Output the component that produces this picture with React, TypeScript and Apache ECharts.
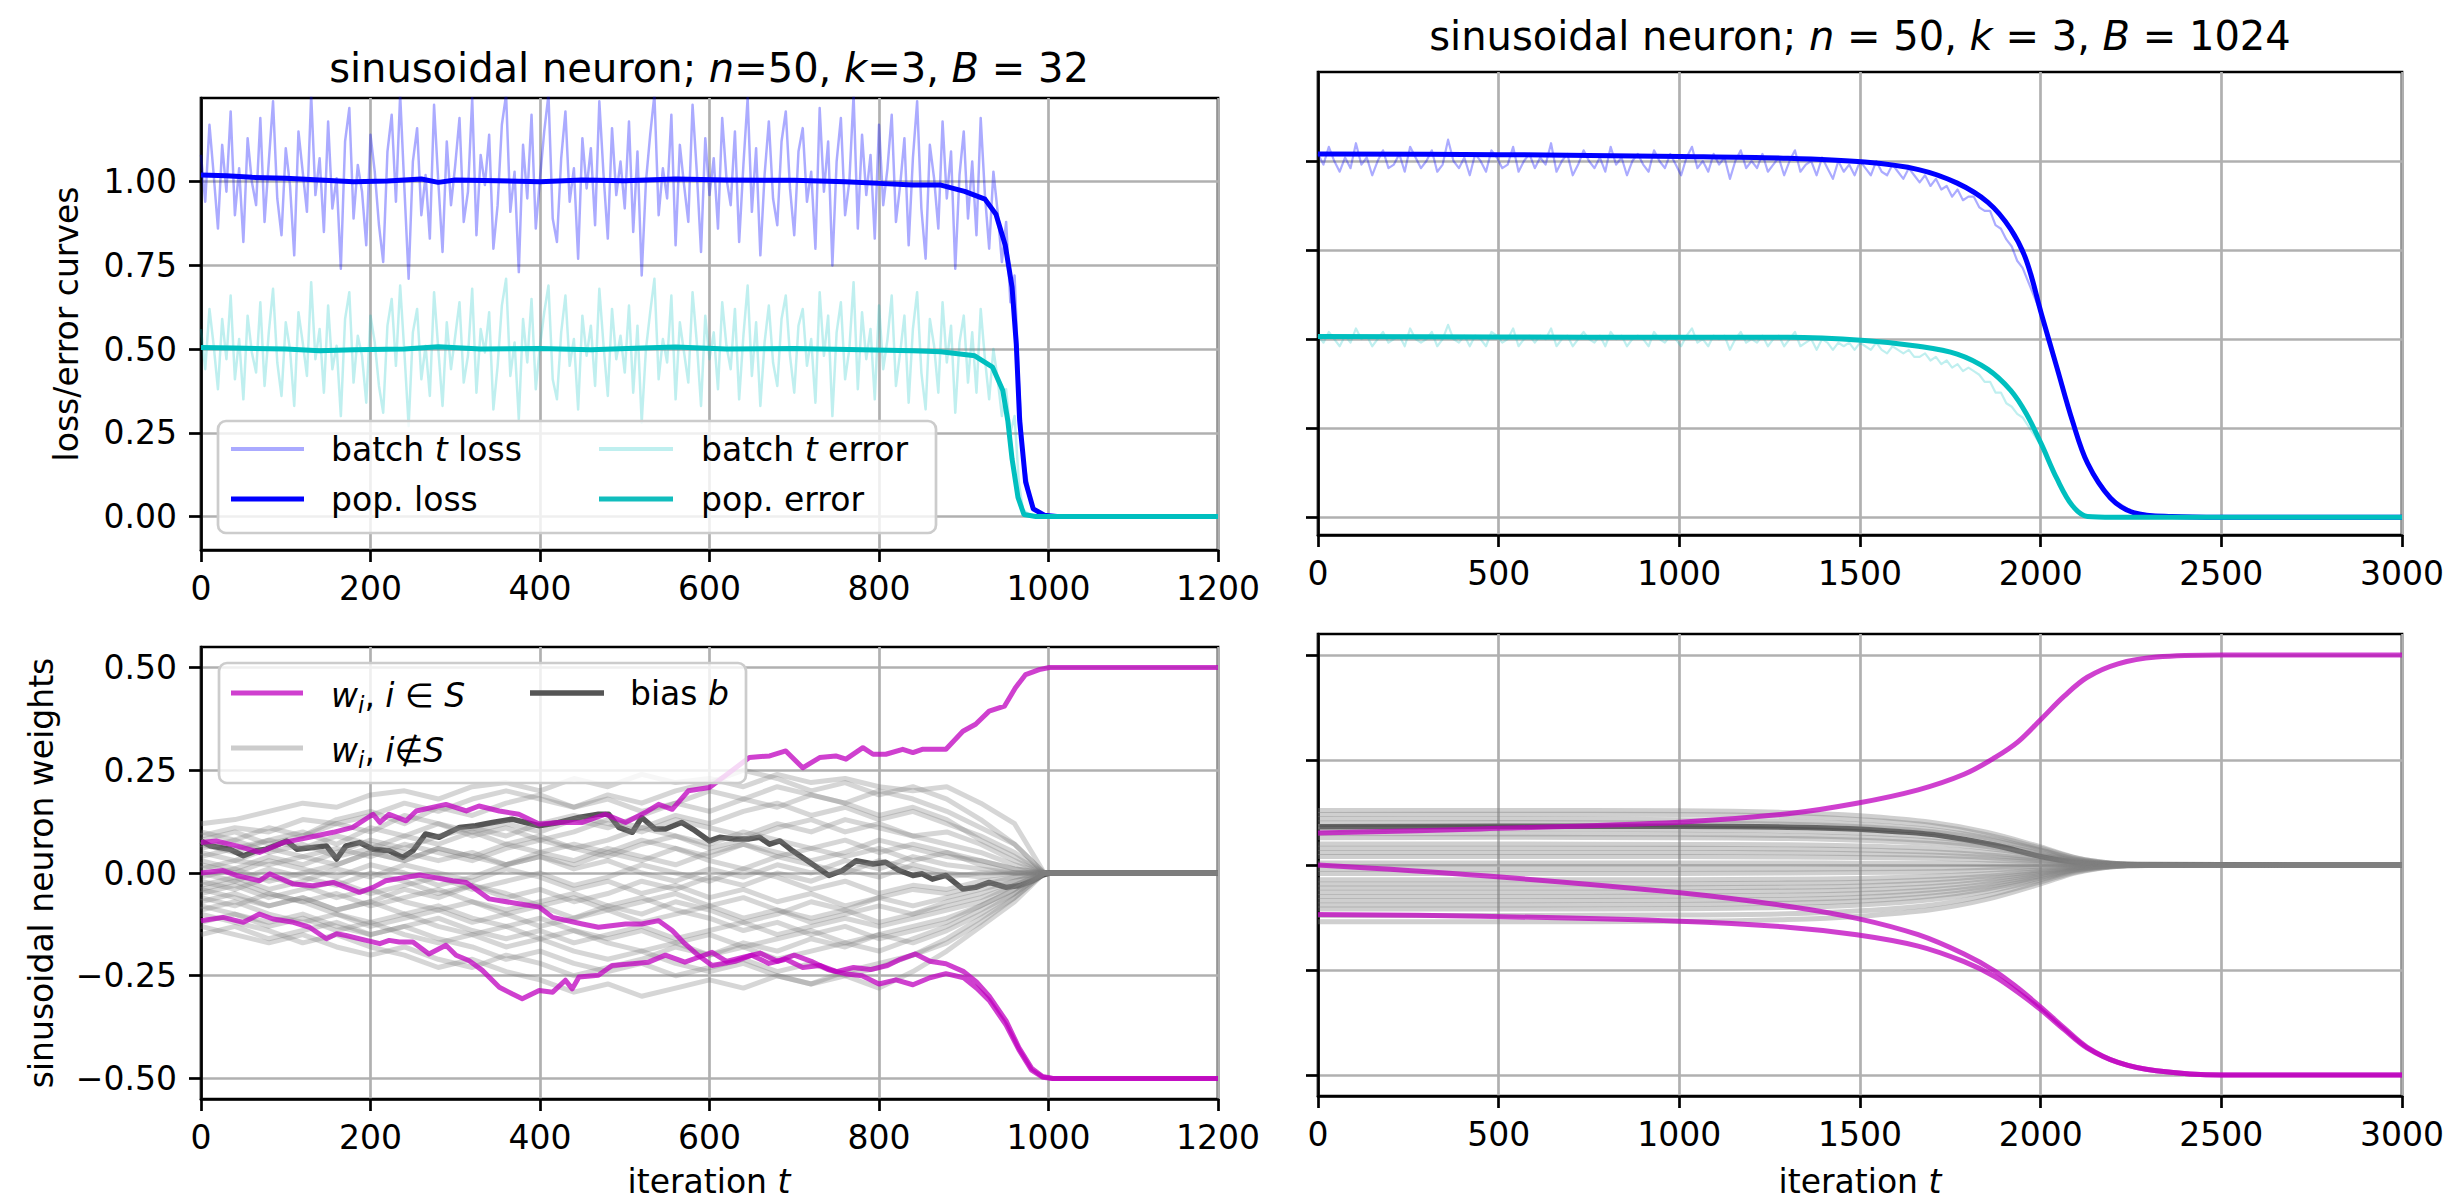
import React, { useEffect, useRef } from 'react';
import * as echarts from 'echarts';

const FONT = 'DejaVu Sans';

// ---------- Top-left: B = 32 ----------
const tlBatchStep = 5;
const tlBatchLoss = [
  1.08, 0.94, 1.17, 1.02, 0.86, 1.11, 0.97, 1.21, 0.90, 1.04, 0.82, 1.13, 1.00, 0.93, 1.19, 0.88, 1.06, 1.24, 0.95, 0.84,
  1.10, 0.99, 0.78, 1.15, 1.03, 0.91, 1.26, 0.96, 1.07, 0.85, 1.18, 0.92, 1.01, 0.74, 1.12, 1.22, 0.89, 1.05, 0.97, 0.81,
  1.14, 1.03, 0.87, 0.76, 1.09, 1.20, 0.94, 1.26, 0.98, 0.71, 1.06, 1.16, 0.90, 1.02, 0.83, 1.23, 1.00, 0.79, 1.12, 0.93,
  1.05, 1.19, 0.88, 0.97, 1.25, 0.84, 1.08, 0.99, 1.14, 0.80, 0.93, 1.17, 1.26, 0.91, 1.03, 0.73, 1.11, 0.95, 1.20, 0.86,
  1.01, 1.15, 1.26, 0.89, 0.82, 1.07, 1.21, 0.94, 1.04, 0.77, 1.13, 0.98, 1.10, 0.87, 1.24, 1.02, 0.83, 1.16, 0.96, 1.06,
  0.92, 1.18, 0.85, 1.09, 0.72, 1.00, 1.14, 1.26, 0.90, 1.04, 0.95, 1.20, 0.81, 1.11, 0.99, 0.88, 1.23, 1.03, 0.79, 1.13,
  0.96, 1.07, 0.86, 1.19, 1.01, 0.93, 1.15, 0.82, 1.05, 1.25, 0.91, 1.10, 0.78, 1.02, 1.18, 0.95, 0.87, 1.12, 1.21, 0.98,
  0.84, 1.09, 1.16, 0.94, 1.03, 0.80, 1.22, 0.97, 1.12, 0.75, 1.06, 1.19, 0.90, 1.00, 1.26, 0.86, 1.14, 0.96, 1.08, 0.83,
  1.17, 0.93, 1.04, 1.20, 0.88, 0.99, 1.13, 0.81, 1.07, 1.24, 0.92, 0.77, 1.11, 1.01, 0.86, 1.18, 0.95, 1.09, 0.74, 1.02,
  1.15, 0.89, 1.06, 0.84, 1.19, 0.96, 0.80, 1.03, 0.91, 0.76, 0.88, 0.64, 0.72,
];
const tlBatchLossTailT = [965, 970, 980, 990, 1000, 1200];
const tlBatchLossTailV = [0.40, 0.18, 0.03, 0.005, 0, 0];
const tlBatchErr = [
  0.56, 0.44, 0.62, 0.51, 0.38, 0.59, 0.47, 0.66, 0.41, 0.53, 0.35, 0.60, 0.49, 0.43, 0.64, 0.39, 0.55, 0.68, 0.46, 0.36,
  0.58, 0.50, 0.33, 0.61, 0.52, 0.42, 0.70, 0.47, 0.56, 0.37, 0.63, 0.44, 0.51, 0.30, 0.59, 0.67, 0.40, 0.54, 0.48, 0.34,
  0.60, 0.52, 0.39, 0.31, 0.57, 0.65, 0.45, 0.69, 0.49, 0.27, 0.55, 0.62, 0.41, 0.51, 0.36, 0.67, 0.50, 0.33, 0.58, 0.44,
  0.54, 0.64, 0.40, 0.48, 0.68, 0.37, 0.56, 0.49, 0.61, 0.32, 0.45, 0.63, 0.71, 0.42, 0.52, 0.29, 0.59, 0.46, 0.65, 0.38,
  0.51, 0.61, 0.69, 0.41, 0.35, 0.55, 0.66, 0.45, 0.53, 0.32, 0.60, 0.48, 0.57, 0.39, 0.68, 0.51, 0.36, 0.62, 0.47, 0.54,
  0.43, 0.63, 0.37, 0.57, 0.28, 0.50, 0.61, 0.71, 0.41, 0.53, 0.46, 0.66, 0.35, 0.58, 0.49, 0.40, 0.67, 0.52, 0.33, 0.60,
  0.47, 0.55, 0.38, 0.64, 0.51, 0.44, 0.62, 0.35, 0.54, 0.69, 0.42, 0.58, 0.33, 0.52, 0.63, 0.46, 0.39, 0.59, 0.66, 0.48,
  0.37, 0.57, 0.62, 0.45, 0.53, 0.34, 0.67, 0.48, 0.60, 0.30, 0.55, 0.64, 0.41, 0.50, 0.70, 0.38, 0.61, 0.47, 0.56, 0.35,
  0.63, 0.44, 0.53, 0.66, 0.39, 0.49, 0.60, 0.34, 0.56, 0.67, 0.43, 0.32, 0.59, 0.51, 0.37, 0.64, 0.46, 0.57, 0.31, 0.52,
  0.60, 0.40, 0.55, 0.37, 0.62, 0.47, 0.35, 0.50, 0.41, 0.30, 0.38, 0.25, 0.30,
];
const tlBatchErrTailT = [965, 970, 980, 1200];
const tlBatchErrTailV = [0.10, 0.02, 0, 0];
const tlPopLossT = [0, 30, 60, 100, 140, 180, 220, 260, 280, 300, 350, 400, 450, 500, 560, 620, 700, 760, 800, 840, 873, 901, 925, 938, 949, 957, 962, 966, 973, 982, 995, 1010, 1200];
const tlPopLossV = [1.02, 1.018, 1.013, 1.01, 1.005, 1.0, 1.002, 1.008, 0.998, 1.005, 1.003, 1.0, 1.005, 1.003, 1.008, 1.005, 1.004, 1.0, 0.995, 0.99, 0.99, 0.971, 0.948, 0.903, 0.81, 0.685, 0.514, 0.285, 0.103, 0.023, 0.004, 0, 0];
const tlPopErrT = [0, 40, 100, 140, 180, 240, 280, 330, 400, 460, 520, 560, 620, 700, 780, 840, 873, 913, 934, 946, 952, 957, 964, 971, 985, 1200];
const tlPopErrV = [0.505, 0.503, 0.5, 0.495, 0.498, 0.5, 0.507, 0.5, 0.502, 0.498, 0.503, 0.506, 0.5, 0.502, 0.498, 0.495, 0.492, 0.48, 0.446, 0.377, 0.286, 0.172, 0.057, 0.006, 0, 0];

// ---------- Top-right: B = 1024 ----------
const trBatchStep = 15;
const trBatchLoss = [
  1.02, 0.99, 1.04, 1.00, 0.97, 1.01, 0.98, 1.05, 0.99, 1.01, 0.96, 1.00, 1.03, 0.98, 0.99, 1.02, 0.97, 1.04, 1.01, 0.98,
  1.00, 1.03, 0.97, 0.99, 1.06, 1.00, 0.98, 1.01, 0.96, 1.02, 1.00, 0.97, 1.03, 1.01, 0.98, 0.99, 1.04, 0.97, 1.00, 1.02,
  0.98, 1.01, 0.99, 1.05, 0.97, 1.00, 1.02, 0.96, 0.99, 1.03, 1.00, 0.98, 1.01, 0.97, 1.04, 0.99, 1.01, 0.96, 1.00, 1.02,
  0.99, 0.97, 1.03, 1.00, 0.98, 1.02, 0.99, 0.96, 1.01, 1.04, 0.98, 1.00, 0.97, 1.02, 0.99, 1.01, 0.95, 1.00, 1.03, 0.98,
  1.00, 0.98, 1.02, 0.97, 0.99, 1.01, 0.96, 1.00, 1.03, 0.97, 0.99, 1.00, 0.96, 1.01, 0.98, 0.95, 1.00, 0.97, 0.99, 0.96,
  1.00, 0.98, 0.96, 1.00, 0.97, 0.96, 0.99, 0.97, 0.95, 0.98, 0.96, 0.94, 0.96, 0.93, 0.95, 0.92, 0.93, 0.90, 0.92, 0.89,
  0.90, 0.90, 0.87, 0.86, 0.86, 0.82, 0.81, 0.78, 0.76, 0.72, 0.70,
];
const trBatchLossTailT = [2002, 2045, 2088, 2130, 2193, 2257, 2363, 3000];
const trBatchLossTailV = [0.57, 0.42, 0.27, 0.15, 0.054, 0.013, 0.002, 0];
const trBatchErr = [
  0.51, 0.49, 0.52, 0.50, 0.48, 0.51, 0.49, 0.53, 0.50, 0.51, 0.48, 0.50, 0.52, 0.49, 0.50, 0.51, 0.48, 0.53, 0.50, 0.49,
  0.50, 0.52, 0.48, 0.50, 0.54, 0.50, 0.49, 0.51, 0.48, 0.51, 0.50, 0.48, 0.52, 0.51, 0.49, 0.50, 0.53, 0.48, 0.50, 0.51,
  0.49, 0.51, 0.50, 0.53, 0.48, 0.50, 0.51, 0.48, 0.50, 0.52, 0.50, 0.49, 0.51, 0.48, 0.52, 0.50, 0.51, 0.48, 0.50, 0.51,
  0.50, 0.48, 0.52, 0.50, 0.49, 0.51, 0.50, 0.48, 0.51, 0.53, 0.49, 0.50, 0.48, 0.51, 0.50, 0.51, 0.47, 0.50, 0.52, 0.49,
  0.50, 0.49, 0.51, 0.48, 0.50, 0.51, 0.48, 0.50, 0.52, 0.48, 0.49, 0.50, 0.47, 0.50, 0.49, 0.47, 0.49, 0.48, 0.49, 0.47,
  0.49, 0.48, 0.47, 0.49, 0.47, 0.46, 0.48, 0.47, 0.46, 0.47, 0.45, 0.45, 0.46, 0.44, 0.45, 0.43, 0.44, 0.42, 0.43, 0.41,
  0.42, 0.41, 0.40, 0.38, 0.38, 0.35, 0.35, 0.32, 0.31, 0.29, 0.28,
];
const trBatchErrTailT = [2002, 2045, 2088, 2130, 3000];
const trBatchErrTailV = [0.20, 0.105, 0.03, 0.002, 0];
const trPopLossT = [0, 500, 1003, 1301, 1513, 1662, 1769, 1854, 1917, 1960, 2002, 2045, 2088, 2130, 2193, 2257, 2363, 2500, 3000];
const trPopLossV = [1.02, 1.018, 1.013, 1.008, 0.997, 0.976, 0.938, 0.884, 0.809, 0.722, 0.571, 0.42, 0.27, 0.151, 0.054, 0.013, 0.002, 0, 0];
const trPopErrT = [0, 500, 1000, 1301, 1513, 1662, 1769, 1854, 1917, 1960, 2002, 2045, 2088, 2130, 2200, 3000];
const trPopErrV = [0.507, 0.506, 0.505, 0.505, 0.496, 0.48, 0.458, 0.415, 0.356, 0.291, 0.205, 0.108, 0.032, 0.002, 0, 0];

// ---------- Bottom-left: weights, B = 32 ----------
const blPinkAT = [0, 18, 42, 69, 97, 128, 156, 179, 203, 211, 222, 242, 254, 289, 313, 328, 352, 375, 399, 422, 450, 477, 501, 524, 540, 556, 575, 600, 647, 671, 690, 710, 730, 749, 761, 781, 793, 808, 828, 840, 851, 879, 899, 914, 930, 948, 961, 973, 989, 1001, 1200];
const blPinkAV = [0.074, 0.078, 0.066, 0.050, 0.074, 0.087, 0.099, 0.111, 0.143, 0.123, 0.143, 0.127, 0.151, 0.167, 0.151, 0.163, 0.151, 0.143, 0.119, 0.123, 0.123, 0.143, 0.123, 0.147, 0.167, 0.155, 0.200, 0.208, 0.281, 0.285, 0.297, 0.256, 0.281, 0.285, 0.277, 0.305, 0.289, 0.289, 0.301, 0.293, 0.301, 0.301, 0.345, 0.362, 0.394, 0.406, 0.451, 0.483, 0.495, 0.5, 0.5];
const blPinkBT = [0, 26, 42, 69, 81, 109, 132, 156, 187, 203, 218, 258, 297, 313, 340, 375, 399, 415, 450, 469, 501, 520, 540, 556, 571, 587, 603, 630, 650, 670, 690, 710, 730, 750, 770, 790, 810, 825, 843, 860, 879, 900, 915, 930, 950, 965, 980, 993, 1005, 1200];
const blPinkBV = [0, 0.006, -0.006, -0.019, -0.002, -0.027, -0.031, -0.023, -0.047, -0.035, -0.019, -0.005, -0.019, -0.023, -0.063, -0.075, -0.083, -0.108, -0.124, -0.132, -0.124, -0.124, -0.116, -0.140, -0.172, -0.201, -0.225, -0.215, -0.2, -0.22, -0.21, -0.23, -0.225, -0.24, -0.23, -0.235, -0.225, -0.21, -0.197, -0.215, -0.221, -0.24, -0.265, -0.3, -0.36, -0.425, -0.475, -0.495, -0.5, -0.5];
const blPinkCT = [0, 26, 50, 69, 85, 109, 128, 148, 160, 171, 195, 211, 222, 234, 250, 269, 289, 301, 316, 332, 352, 367, 379, 399, 415, 430, 438, 446, 469, 485, 509, 528, 548, 571, 587, 603, 620, 640, 660, 680, 700, 720, 740, 760, 780, 800, 820, 840, 860, 879, 900, 915, 930, 950, 965, 980, 993, 1005, 1200];
const blPinkCV = [-0.116, -0.108, -0.12, -0.1, -0.112, -0.12, -0.132, -0.16, -0.148, -0.152, -0.164, -0.172, -0.164, -0.168, -0.168, -0.197, -0.176, -0.2, -0.213, -0.237, -0.278, -0.294, -0.306, -0.286, -0.29, -0.261, -0.282, -0.253, -0.249, -0.225, -0.221, -0.217, -0.2, -0.217, -0.205, -0.193, -0.215, -0.205, -0.195, -0.215, -0.2, -0.215, -0.235, -0.245, -0.25, -0.27, -0.26, -0.272, -0.255, -0.245, -0.255, -0.28, -0.31, -0.37, -0.43, -0.48, -0.497, -0.5, -0.5];
const blBiasT = [0, 11, 22, 34, 50, 65, 77, 101, 113, 132, 148, 160, 171, 187, 203, 222, 238, 250, 265, 281, 305, 324, 344, 367, 383, 399, 422, 446, 469, 481, 493, 509, 520, 536, 548, 567, 583, 600, 612, 628, 647, 659, 671, 683, 698, 718, 741, 757, 773, 793, 808, 824, 840, 851, 863, 879, 899, 914, 930, 950, 965, 981, 993, 1001, 1200];
const blBiasV = [0.078, 0.066, 0.062, 0.058, 0.042, 0.054, 0.058, 0.078, 0.058, 0.062, 0.066, 0.034, 0.066, 0.074, 0.058, 0.054, 0.038, 0.054, 0.095, 0.087, 0.111, 0.115, 0.123, 0.131, 0.123, 0.115, 0.123, 0.135, 0.143, 0.143, 0.111, 0.099, 0.135, 0.107, 0.107, 0.123, 0.103, 0.078, 0.087, 0.083, 0.083, 0.087, 0.07, 0.078, 0.054, 0.026, -0.006, 0.006, 0.03, 0.022, 0.026, 0.006, -0.006, -0.002, -0.015, -0.006, -0.039, -0.035, -0.023, -0.035, -0.031, -0.019, -0.005, 0, 0];
const blGreyT = [0, 40, 80, 120, 160, 200, 240, 280, 320, 360, 400, 440, 480, 520, 560, 600, 640, 680, 720, 760, 800, 840, 880, 920, 960, 995, 1200];
const blGreyLines = [
  [0.12, 0.13, 0.15, 0.17, 0.16, 0.19, 0.20, 0.18, 0.21, 0.22, 0.20, 0.23, 0.21, 0.24, 0.22, 0.23, 0.21, 0.24, 0.22, 0.23, 0.21, 0.20, 0.21, 0.17, 0.12, 0, 0],
  [0.10, 0.08, 0.11, 0.09, 0.13, 0.15, 0.12, 0.16, 0.14, 0.17, 0.19, 0.16, 0.18, 0.15, 0.17, 0.20, 0.18, 0.21, 0.19, 0.17, 0.20, 0.18, 0.15, 0.11, 0.07, 0, 0],
  [0.09, 0.11, 0.10, 0.13, 0.12, 0.10, 0.14, 0.12, 0.09, 0.11, 0.08, 0.10, 0.13, 0.11, 0.14, 0.12, 0.15, 0.17, 0.14, 0.16, 0.13, 0.15, 0.12, 0.09, 0.05, 0, 0],
  [0.07, 0.05, 0.08, 0.10, 0.07, 0.11, 0.09, 0.12, 0.10, 0.07, 0.09, 0.06, 0.08, 0.11, 0.09, 0.06, 0.08, 0.11, 0.13, 0.10, 0.12, 0.09, 0.10, 0.07, 0.03, 0, 0],
  [0.06, 0.08, 0.05, 0.07, 0.04, 0.06, 0.09, 0.07, 0.10, 0.12, 0.10, 0.13, 0.11, 0.14, 0.17, 0.15, 0.18, 0.16, 0.19, 0.17, 0.14, 0.16, 0.13, 0.08, 0.04, 0, 0],
  [0.05, 0.03, 0.06, 0.04, 0.02, 0.05, 0.03, 0.06, 0.04, 0.07, 0.05, 0.03, 0.06, 0.04, 0.02, 0.05, 0.07, 0.04, 0.06, 0.08, 0.05, 0.07, 0.05, 0.03, 0.01, 0, 0],
  [0.04, 0.06, 0.08, 0.06, 0.09, 0.07, 0.05, 0.03, 0.05, 0.02, 0.04, 0.01, 0.03, 0.00, -0.02, 0.01, -0.01, 0.02, 0.00, 0.03, 0.01, 0.04, 0.02, 0.01, 0.00, 0, 0],
  [0.03, 0.01, 0.04, 0.02, 0.05, 0.08, 0.06, 0.09, 0.11, 0.09, 0.12, 0.14, 0.12, 0.10, 0.13, 0.11, 0.09, 0.12, 0.10, 0.13, 0.11, 0.09, 0.07, 0.05, 0.02, 0, 0],
  [0.02, 0.00, 0.03, 0.01, -0.01, 0.02, 0.00, -0.03, -0.01, 0.02, 0.04, 0.02, 0.05, 0.03, 0.06, 0.04, 0.07, 0.05, 0.03, 0.05, 0.08, 0.06, 0.04, 0.03, 0.01, 0, 0],
  [0.01, 0.03, 0.02, 0.04, 0.06, 0.04, 0.07, 0.05, 0.03, 0.06, 0.08, 0.06, 0.04, 0.07, 0.09, 0.07, 0.10, 0.08, 0.06, 0.04, 0.06, 0.03, 0.05, 0.02, 0.00, 0, 0],
  [0.00, -0.02, 0.01, -0.01, -0.03, 0.00, -0.02, -0.05, -0.03, -0.06, -0.04, -0.07, -0.05, -0.02, -0.04, -0.01, -0.03, 0.00, -0.02, 0.01, -0.01, 0.02, 0.00, -0.01, 0.00, 0, 0],
  [-0.01, 0.01, -0.02, 0.00, 0.02, 0.05, 0.03, 0.06, 0.04, 0.02, 0.05, 0.07, 0.05, 0.08, 0.06, 0.03, 0.01, 0.04, 0.02, 0.00, 0.03, 0.01, -0.01, 0.00, 0.00, 0, 0],
  [-0.02, -0.04, -0.01, -0.03, -0.06, -0.04, -0.07, -0.09, -0.07, -0.10, -0.08, -0.11, -0.09, -0.12, -0.10, -0.08, -0.11, -0.09, -0.12, -0.10, -0.08, -0.10, -0.07, -0.05, -0.02, 0, 0],
  [-0.03, -0.01, -0.04, -0.02, 0.01, -0.01, 0.02, 0.00, -0.02, 0.01, -0.01, -0.04, -0.02, -0.05, -0.03, -0.06, -0.04, -0.07, -0.05, -0.08, -0.06, -0.04, -0.05, -0.03, -0.01, 0, 0],
  [-0.04, -0.06, -0.08, -0.06, -0.09, -0.07, -0.10, -0.08, -0.11, -0.13, -0.11, -0.14, -0.16, -0.14, -0.17, -0.15, -0.18, -0.16, -0.14, -0.17, -0.15, -0.13, -0.11, -0.08, -0.04, 0, 0],
  [-0.05, -0.03, -0.06, -0.04, -0.02, -0.05, -0.03, -0.01, -0.04, -0.02, 0.00, -0.03, -0.01, 0.02, 0.00, -0.02, 0.01, -0.01, -0.04, -0.02, -0.05, -0.03, -0.04, -0.02, -0.01, 0, 0],
  [-0.06, -0.08, -0.05, -0.07, -0.10, -0.12, -0.10, -0.13, -0.15, -0.13, -0.16, -0.14, -0.17, -0.19, -0.17, -0.20, -0.18, -0.21, -0.19, -0.17, -0.19, -0.16, -0.13, -0.09, -0.05, 0, 0],
  [-0.07, -0.05, -0.08, -0.06, -0.09, -0.07, -0.04, -0.06, -0.03, -0.05, -0.08, -0.06, -0.09, -0.07, -0.05, -0.08, -0.06, -0.09, -0.11, -0.09, -0.12, -0.10, -0.08, -0.06, -0.03, 0, 0],
  [-0.08, -0.10, -0.12, -0.10, -0.13, -0.15, -0.13, -0.16, -0.18, -0.21, -0.19, -0.22, -0.24, -0.22, -0.25, -0.23, -0.21, -0.24, -0.22, -0.25, -0.23, -0.20, -0.17, -0.12, -0.06, 0, 0],
  [-0.09, -0.07, -0.10, -0.12, -0.10, -0.13, -0.11, -0.09, -0.12, -0.10, -0.13, -0.11, -0.08, -0.10, -0.07, -0.09, -0.12, -0.10, -0.07, -0.09, -0.06, -0.08, -0.06, -0.04, -0.02, 0, 0],
  [-0.10, -0.12, -0.14, -0.17, -0.15, -0.18, -0.20, -0.23, -0.21, -0.24, -0.26, -0.29, -0.27, -0.30, -0.28, -0.26, -0.28, -0.25, -0.27, -0.24, -0.22, -0.20, -0.16, -0.11, -0.06, 0, 0],
  [-0.12, -0.10, -0.13, -0.11, -0.14, -0.12, -0.15, -0.17, -0.15, -0.18, -0.16, -0.19, -0.21, -0.19, -0.22, -0.24, -0.22, -0.25, -0.27, -0.25, -0.28, -0.24, -0.19, -0.13, -0.07, 0, 0],
  [-0.13, -0.15, -0.17, -0.15, -0.18, -0.20, -0.18, -0.21, -0.23, -0.20, -0.22, -0.25, -0.23, -0.21, -0.18, -0.20, -0.17, -0.19, -0.16, -0.18, -0.15, -0.17, -0.14, -0.10, -0.05, 0, 0],
  [-0.15, -0.13, -0.16, -0.14, -0.12, -0.15, -0.13, -0.11, -0.14, -0.16, -0.14, -0.17, -0.15, -0.13, -0.16, -0.14, -0.12, -0.15, -0.13, -0.11, -0.13, -0.11, -0.09, -0.07, -0.03, 0, 0],
  [0.08, 0.10, 0.07, 0.09, 0.12, 0.14, 0.17, 0.15, 0.18, 0.20, 0.18, 0.16, 0.19, 0.17, 0.20, 0.22, 0.25, 0.23, 0.20, 0.22, 0.19, 0.21, 0.18, 0.13, 0.07, 0, 0],
  [-0.04, -0.02, -0.05, -0.07, -0.05, -0.08, -0.06, -0.04, -0.07, -0.09, -0.07, -0.05, -0.08, -0.06, -0.09, -0.11, -0.14, -0.12, -0.15, -0.13, -0.16, -0.14, -0.12, -0.08, -0.04, 0, 0],
];

// ---------- Bottom-right: weights, B = 1024 ----------
const brPinkT = [0, 450, 1002, 1300, 1491, 1661, 1788, 1874, 1937, 2001, 2065, 2129, 2214, 2320, 2500, 3000];
const brPinkUpV = [0.076, 0.086, 0.102, 0.122, 0.147, 0.179, 0.216, 0.256, 0.293, 0.347, 0.402, 0.447, 0.479, 0.495, 0.5, 0.5];
const brPinkMidV = [0.0, -0.025, -0.066, -0.098, -0.127, -0.166, -0.212, -0.253, -0.293, -0.339, -0.388, -0.434, -0.47, -0.49, -0.5, -0.5];
const brPinkLowV = [-0.118, -0.122, -0.134, -0.148, -0.166, -0.193, -0.23, -0.266, -0.303, -0.345, -0.392, -0.436, -0.47, -0.49, -0.5, -0.5];
const brBiasT = [0, 500, 1000, 1300, 1491, 1600, 1724, 1874, 2001, 2100, 2200, 3000];
const brBiasV = [0.091, 0.092, 0.092, 0.09, 0.086, 0.08, 0.07, 0.047, 0.02, 0.006, 0.001, 0];
const brGreyT = [0, 500, 1000, 1300, 1500, 1700, 1850, 2000, 2100, 2200, 2300, 3000];
const brGreyLines = [
  [0.13, 0.13, 0.129, 0.125, 0.117, 0.101, 0.078, 0.043, 0.017, 0.004, 0.001, 0],
  [0.12, 0.121, 0.12, 0.116, 0.108, 0.094, 0.072, 0.04, 0.016, 0.004, 0.001, 0],
  [0.11, 0.11, 0.108, 0.104, 0.097, 0.084, 0.065, 0.036, 0.014, 0.003, 0.001, 0],
  [0.10, 0.101, 0.1, 0.097, 0.091, 0.079, 0.061, 0.034, 0.013, 0.003, 0, 0],
  [0.085, 0.085, 0.084, 0.081, 0.076, 0.066, 0.051, 0.028, 0.011, 0.003, 0, 0],
  [0.075, 0.074, 0.073, 0.07, 0.066, 0.057, 0.044, 0.024, 0.01, 0.002, 0, 0],
  [0.065, 0.066, 0.065, 0.063, 0.059, 0.051, 0.04, 0.022, 0.009, 0.002, 0, 0],
  [0.05, 0.05, 0.049, 0.048, 0.045, 0.039, 0.03, 0.017, 0.007, 0.002, 0, 0],
  [0.04, 0.04, 0.04, 0.038, 0.036, 0.031, 0.024, 0.013, 0.005, 0.001, 0, 0],
  [0.03, 0.03, 0.03, 0.029, 0.027, 0.023, 0.018, 0.01, 0.004, 0.001, 0, 0],
  [0.02, 0.02, 0.02, 0.019, 0.018, 0.016, 0.012, 0.007, 0.003, 0.001, 0, 0],
  [0.005, 0.005, 0.005, 0.005, 0.004, 0.004, 0.003, 0.002, 0.001, 0, 0, 0],
  [-0.01, -0.01, -0.01, -0.01, -0.009, -0.008, -0.006, -0.003, -0.001, 0, 0, 0],
  [-0.02, -0.02, -0.02, -0.019, -0.018, -0.016, -0.012, -0.007, -0.003, -0.001, 0, 0],
  [-0.035, -0.035, -0.035, -0.034, -0.032, -0.027, -0.021, -0.012, -0.005, -0.001, 0, 0],
  [-0.045, -0.045, -0.045, -0.043, -0.041, -0.035, -0.027, -0.015, -0.006, -0.001, 0, 0],
  [-0.055, -0.055, -0.054, -0.053, -0.05, -0.043, -0.033, -0.018, -0.007, -0.002, 0, 0],
  [-0.065, -0.065, -0.064, -0.062, -0.059, -0.051, -0.039, -0.021, -0.008, -0.002, 0, 0],
  [-0.075, -0.075, -0.074, -0.072, -0.068, -0.059, -0.045, -0.025, -0.01, -0.002, 0, 0],
  [-0.085, -0.085, -0.084, -0.082, -0.077, -0.066, -0.051, -0.028, -0.011, -0.003, 0, 0],
  [-0.095, -0.095, -0.094, -0.091, -0.086, -0.074, -0.057, -0.031, -0.012, -0.003, 0, 0],
  [-0.105, -0.105, -0.104, -0.101, -0.095, -0.082, -0.063, -0.035, -0.014, -0.003, -0.001, 0],
  [-0.12, -0.12, -0.119, -0.116, -0.109, -0.095, -0.073, -0.04, -0.016, -0.004, -0.001, 0],
  [-0.135, -0.135, -0.134, -0.13, -0.122, -0.106, -0.082, -0.045, -0.018, -0.004, -0.001, 0],
];

// ---------- tick values ----------
const lossTicks = [0, 0.25, 0.5, 0.75, 1.0];
const weightTicks = [-0.5, -0.25, 0, 0.25, 0.5];

// ---------- colours ----------
const BLUE = '#0000ff';
const CYAN = '#00bfbf';
const PINK = '#bf00bf';
const GREY = '#808080';
const BIAS = '#555555';

const pairs = (ts: number[], vs: number[]) => ts.map((t, i) => [t, vs[i]]);
const stepPairs = (step: number, vs: number[]) => vs.map((v, i) => [i * step, v]);

function lineSeries(ax: number, data: number[][], color: string, width: number, opacity = 1, smooth: number | boolean = false) {
  return {
    type: 'line',
    xAxisIndex: ax,
    yAxisIndex: ax,
    data,
    symbol: 'none',
    showSymbol: false,
    smooth,
    silent: true,
    animation: false,
    emphasis: { disabled: true },
    lineStyle: { color, width, opacity, join: 'round', cap: 'butt' },
  };
}

const tickFmt = (v: number) => (v < 0 ? '\u2212' + Math.abs(v).toFixed(2) : v.toFixed(2));

function xAxis(gi: number, max: number, interval: number) {
  return {
    type: 'value',
    gridIndex: gi,
    min: 0,
    max,
    interval,
    axisLine: { show: true, onZero: false, lineStyle: { color: '#000', width: 2.7 } },
    axisTick: { show: true, length: 12, inside: false, lineStyle: { color: '#000', width: 2.7 } },
    axisLabel: { show: true, fontSize: 33, color: '#000', fontFamily: FONT, margin: 22, formatter: (v: number) => String(v) },
    splitLine: { show: true, lineStyle: { color: '#b0b0b0', width: 2.7 } },
  };
}

function yAxis(gi: number, min: number, max: number, ticks: number[], showLabel: boolean) {
  return {
    type: 'value',
    gridIndex: gi,
    min,
    max,
    axisLine: { show: true, onZero: false, lineStyle: { color: '#000', width: 2.7 } },
    axisTick: { show: true, length: 12, inside: false, customValues: ticks, lineStyle: { color: '#000', width: 2.7 } },
    axisLabel: {
      show: showLabel,
      customValues: ticks,
      formatter: tickFmt,
      fontSize: 33,
      color: '#000',
      fontFamily: FONT,
      margin: 24,
    },
    splitLine: { show: true, lineStyle: { color: '#b0b0b0', width: 2.7 } },
  };
}

const rich = (fs: number) => ({
  r: { fontSize: fs, fontFamily: FONT, fill: '#000', lineHeight: fs + 10 },
  i: { fontSize: fs, fontFamily: FONT, fontStyle: 'italic', fill: '#000', lineHeight: fs + 10 },
  s: { fontSize: Math.round(fs * 0.7), fontFamily: FONT, fontStyle: 'italic', fill: '#000', lineHeight: Math.round(fs * 0.7), verticalAlign: 'bottom' },
});

function textEl(x: number, y: number, text: string, fs: number, align = 'center', rotation = 0) {
  return {
    type: 'text',
    x,
    y,
    rotation,
    z: 100,
    silent: true,
    style: {
      text,
      rich: rich(fs),
      fontSize: fs,
      fontFamily: FONT,
      fill: '#000',
      align,
      verticalAlign: 'middle',
    },
  };
}

function legendLine(x1: number, x2: number, y: number, color: string, width: number) {
  return {
    type: 'line',
    z: 100,
    silent: true,
    shape: { x1, y1: y, x2, y2: y },
    style: { stroke: color, lineWidth: width },
  };
}

function legendBox(x: number, y: number, w: number, h: number) {
  return {
    type: 'rect',
    z: 99,
    silent: true,
    shape: { x, y, width: w, height: h, r: 8 },
    style: { fill: 'rgba(255,255,255,0.8)', stroke: '#cccccc', lineWidth: 2.7 },
  };
}

export default function App() {
  const ref = useRef<HTMLDivElement>(null);

  useEffect(() => {
    if (!ref.current) return;
    const chart = echarts.init(ref.current, null, { renderer: 'svg' });

    const series: any[] = [];
    // TL
    series.push(lineSeries(0, stepPairs(tlBatchStep, tlBatchLoss).concat(pairs(tlBatchLossTailT, tlBatchLossTailV)), BLUE, 2.5, 0.33));
    series.push(lineSeries(0, pairs(tlPopLossT, tlPopLossV), BLUE, 5));
    series.push(lineSeries(0, stepPairs(tlBatchStep, tlBatchErr).concat(pairs(tlBatchErrTailT, tlBatchErrTailV)), CYAN, 2.5, 0.25));
    series.push(lineSeries(0, pairs(tlPopErrT, tlPopErrV), CYAN, 5));
    // TR
    series.push(lineSeries(1, stepPairs(trBatchStep, trBatchLoss).concat(pairs(trBatchLossTailT, trBatchLossTailV)), BLUE, 2.2, 0.33));
    series.push(lineSeries(1, pairs(trPopLossT, trPopLossV), BLUE, 5, 1, 0.35));
    series.push(lineSeries(1, stepPairs(trBatchStep, trBatchErr).concat(pairs(trBatchErrTailT, trBatchErrTailV)), CYAN, 2.2, 0.25));
    series.push(lineSeries(1, pairs(trPopErrT, trPopErrV), CYAN, 5, 1, 0.35));
    // BL
    series.push(lineSeries(2, pairs(blBiasT, blBiasV), BIAS, 5.5));
    blGreyLines.forEach((vs) => series.push(lineSeries(2, pairs(blGreyT, vs), GREY, 5, 0.32)));
    series.push(lineSeries(2, pairs(blPinkAT, blPinkAV), PINK, 5, 0.75));
    series.push(lineSeries(2, pairs(blPinkBT, blPinkBV), PINK, 5, 0.75));
    series.push(lineSeries(2, pairs(blPinkCT, blPinkCV), PINK, 5, 0.75));
    // BR
    series.push(lineSeries(3, pairs(brBiasT, brBiasV), BIAS, 5.5, 1, 0.35));
    brGreyLines.forEach((vs) => series.push(lineSeries(3, pairs(brGreyT, vs), GREY, 5, 0.38, 0.35)));
    series.push(lineSeries(3, pairs(brPinkT, brPinkUpV), PINK, 5, 0.75, 0.35));
    series.push(lineSeries(3, pairs(brPinkT, brPinkMidV), PINK, 5, 0.75, 0.35));
    series.push(lineSeries(3, pairs(brPinkT, brPinkLowV), PINK, 5, 0.75, 0.35));

    const gridBase = { show: true, borderColor: '#000', borderWidth: 2.7, backgroundColor: 'transparent', containLabel: false, outerBoundsMode: 'none' };

    const option: any = {
      animation: false,
      backgroundColor: '#ffffff',
      grid: [
        { ...gridBase, left: 201, top: 98, width: 1017, height: 452 },
        { ...gridBase, left: 1318, top: 72, width: 1084, height: 463 },
        { ...gridBase, left: 201, top: 647, width: 1017, height: 452 },
        { ...gridBase, left: 1318, top: 634, width: 1084, height: 462 },
      ],
      xAxis: [xAxis(0, 1200, 200), xAxis(1, 3000, 500), xAxis(2, 1200, 200), xAxis(3, 3000, 500)],
      yAxis: [
        yAxis(0, -0.1, 1.25, lossTicks, true),
        yAxis(1, -0.05, 1.25, lossTicks, false),
        yAxis(2, -0.55, 0.55, weightTicks, true),
        yAxis(3, -0.55, 0.55, weightTicks, false),
      ],
      series,
      graphic: [
        // titles
        textEl(709, 68, '{r|sinusoidal neuron; }{i|n}{r|=50, }{i|k}{r|=3, }{i|B}{r| = 32}', 40),
        textEl(1860, 36, '{r|sinusoidal neuron; }{i|n}{r| = 50, }{i|k}{r| = 3, }{i|B}{r| = 1024}', 40),
        // axis names
        textEl(66, 324, '{r|loss/error curves}', 33, 'center', Math.PI / 2),
        textEl(41, 873, '{r|sinusoidal neuron weights}', 33, 'center', Math.PI / 2),
        textEl(709, 1181, '{r|iteration }{i|t}', 33),
        textEl(1860, 1181, '{r|iteration }{i|t}', 33),
        // TL legend
        legendBox(218, 421, 718, 112),
        legendLine(231, 304, 449, '#aaaaff', 4),
        textEl(331, 449, '{r|batch }{i|t}{r| loss}', 33, 'left'),
        legendLine(231, 304, 499, BLUE, 5),
        textEl(331, 499, '{r|pop. loss}', 33, 'left'),
        legendLine(599, 673, 449, '#bfefef', 4),
        textEl(701, 449, '{r|batch }{i|t}{r| error}', 33, 'left'),
        legendLine(599, 673, 499, '#10bdbd', 5),
        textEl(701, 499, '{r|pop. error}', 33, 'left'),
        // BL legend
        legendBox(219, 663, 527, 120),
        legendLine(231, 303, 693, '#cf40cf', 5),
        textEl(331, 695, '{i|w}{s|i}{r|, }{i|i}{r| \u2208 }{i|S}', 33, 'left'),
        legendLine(231, 303, 748, '#cccccc', 5),
        textEl(331, 750, '{i|w}{s|i}{r|, }{i|i}{r|\u2209}{i|S}', 33, 'left'),
        legendLine(530, 604, 693, BIAS, 5.5),
        textEl(630, 693, '{r|bias }{i|b}', 33, 'left'),
      ],
    };

    chart.setOption(option);
    return () => chart.dispose();
  }, []);

  return (
    <div
      ref={ref}
      style={{ position: 'fixed', left: 0, top: 0, width: 2454, height: 1199, background: '#fff' }}
    />
  );
}
